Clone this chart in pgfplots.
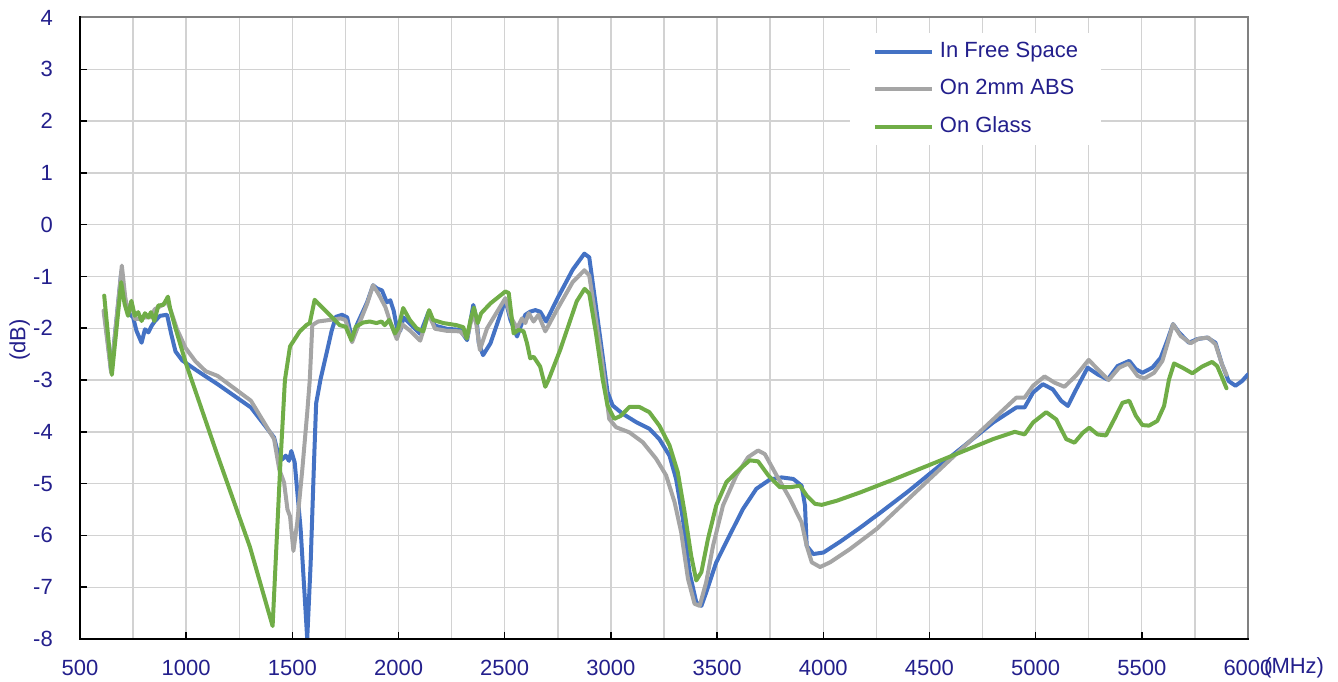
\documentclass[border=0pt]{standalone}
\usepackage{fontspec}
\setmainfont{Liberation Sans}
\usepackage{pgfplots}
\pgfplotsset{compat=1.18}
\definecolor{cblue}{RGB}{68,114,196}
\definecolor{cgray}{RGB}{165,165,165}
\definecolor{cgreen}{RGB}{112,173,71}
\definecolor{navy}{RGB}{35,31,140}
\definecolor{gridc}{RGB}{210,210,210}
\definecolor{framec}{RGB}{128,128,128}
\newcommand{\lblfont}{\fontsize{22pt}{26pt}\selectfont}
\begin{document}
\begin{tikzpicture}
\begin{axis}[
  scale only axis, width=1168pt, height=621.5pt,
  at={(0pt,0pt)}, anchor=south west,
  xmin=500, xmax=6000, ymin=-8, ymax=4,
  xtick={500,1000,1500,2000,2500,3000,3500,4000,4500,5000,5500,6000},
  xticklabels={500,1000,1500,2000,2500,3000,3500,4000,4500,5000,5500,6000},
  minor x tick num=1,
  ytick={-8,-7,-6,-5,-4,-3,-2,-1,0,1,2,3,4},
  yticklabels={-8,-7,-6,-5,-4,-3,-2,-1,0,1,2,3,4},
  grid=both,
  major grid style={gridc, line width=1.4pt},
  minor grid style={gridc, line width=1.4pt},
  tick align=inside, tick pos=left,
  major tick length=7pt, minor tick length=0pt,
  tick style={black, line width=1.5pt},
  axis line style={framec, line width=2pt},
  clip mode=individual,
  every tick label/.append style={text=navy, font=\lblfont},
  yticklabel style={anchor=east, inner sep=0pt, xshift=-27pt},
  xticklabel style={anchor=north, inner sep=0pt, yshift=-21pt},
  xlabel={(MHz)},
  xlabel style={at={(rel axis cs:1,0)}, anchor=north west, inner sep=0pt, xshift=16pt, yshift=-18pt, text=navy, font=\lblfont},
  ylabel={(dB)},
  ylabel style={at={(rel axis cs:-0.0428,0.481)}, anchor=south, inner sep=0pt, text=navy, font=\lblfont},
  legend cell align=left,
  legend image code/.code={\draw[#1, line width=4pt, line cap=butt] (0pt,0pt) -- (57pt,0pt); \path (63pt,0pt);},
  legend style={at={(rel axis cs:0.659,0.975)}, anchor=north west, draw=none, fill=white,
    font=\lblfont, text=navy, inner xsep=23pt, inner ysep=8pt, row sep=16.5pt,
    nodes={inner sep=0pt, text height=16pt, text depth=5pt}},
  every axis plot/.append style={line width=4pt, line join=round, line cap=round},
]
\addplot[cblue] coordinates {
(615,-1.69) (647,-2.84) (695,-0.90) (713,-1.53) (734,-1.73) (750,-1.79) (766,-2.05) (790,-2.28)
(806,-2.02) (822,-2.08) (838,-1.95) (853,-1.86) (877,-1.76) (910,-1.74) (930,-2.12) (950,-2.45)
(981,-2.62) (1044,-2.80) (1092,-2.93) (1148,-3.08) (1305,-3.53) (1414,-4.11) (1430,-4.37)
(1453,-4.53) (1469,-4.46) (1484,-4.56) (1495,-4.37) (1511,-4.59) (1539,-5.88) (1558,-7.17)
(1570,-8.0) (1586,-6.55) (1602,-4.59) (1612,-3.45) (1633,-2.98) (1660,-2.50) (1685,-2.05)
(1705,-1.78) (1734,-1.74) (1758,-1.79) (1781,-2.21) (1805,-1.92) (1852,-1.50) (1880,-1.17)
(1898,-1.23) (1922,-1.27) (1945,-1.50) (1961,-1.46) (1977,-1.66) (1992,-1.98) (2008,-2.05)
(2023,-1.79) (2055,-1.92) (2102,-2.11) (2141,-1.69) (2172,-1.95) (2227,-2.01) (2289,-2.03)
(2323,-2.23) (2352,-1.55) (2367,-1.81) (2378,-2.29) (2398,-2.52) (2433,-2.29) (2503,-1.45)
(2527,-1.84) (2558,-2.16) (2581,-1.90) (2597,-1.74) (2620,-1.68) (2644,-1.65) (2667,-1.68)
(2695,-1.87) (2745,-1.45) (2820,-0.87) (2875,-0.56) (2898,-0.63) (2929,-1.56) (2961,-2.53)
(2984,-3.23) (3008,-3.49) (3055,-3.65) (3118,-3.81) (3181,-3.94) (3228,-4.14) (3276,-4.46)
(3307,-4.91) (3339,-5.68) (3370,-6.71) (3402,-7.29) (3426,-7.36) (3449,-7.10) (3496,-6.52)
(3559,-6.00) (3622,-5.49) (3685,-5.10) (3749,-4.92) (3804,-4.88) (3859,-4.91) (3898,-5.04)
(3914,-5.42) (3922,-6.20) (3953,-6.36) (4001,-6.33) (4080,-6.12) (4174,-5.85) (4269,-5.56)
(4400,-5.15) (4597,-4.49) (4800,-3.82) (4909,-3.53) (4948,-3.53) (4988,-3.24) (5034,-3.08)
(5081,-3.18) (5120,-3.40) (5152,-3.50) (5191,-3.18) (5245,-2.76) (5292,-2.89) (5339,-2.99)
(5386,-2.73) (5441,-2.63) (5472,-2.79) (5503,-2.86) (5550,-2.76) (5589,-2.57) (5620,-2.24)
(5647,-1.92) (5675,-2.08) (5722,-2.28) (5761,-2.21) (5808,-2.18) (5847,-2.28) (5878,-2.70)
(5909,-3.02) (5941,-3.11) (5972,-3.02) (6000,-2.89)
};
\addlegendentry{In Free Space}
\addplot[cgray] coordinates {
(611,-1.66) (647,-2.86) (697,-0.79) (713,-1.40) (726,-1.69) (742,-1.50) (758,-1.82) (782,-1.82)
(806,-1.79) (830,-1.79) (853,-1.63) (885,-1.56) (909,-1.47) (925,-1.63) (957,-2.02) (997,-2.38)
(1044,-2.64) (1092,-2.83) (1148,-2.92) (1305,-3.40) (1414,-4.14) (1438,-4.72) (1461,-4.98)
(1477,-5.50) (1489,-5.63) (1505,-6.30) (1523,-5.75) (1547,-4.72) (1570,-3.63) (1582,-3.00)
(1594,-1.94) (1621,-1.87) (1676,-1.84) (1727,-1.81) (1750,-1.84) (1781,-2.27) (1805,-2.01)
(1852,-1.53) (1880,-1.17) (1906,-1.34) (1938,-1.59) (1961,-1.88) (1992,-2.21) (2016,-1.92)
(2055,-2.05) (2102,-2.24) (2141,-1.72) (2172,-2.01) (2227,-2.05) (2289,-2.06) (2323,-2.19)
(2352,-1.68) (2367,-1.94) (2383,-2.42) (2417,-2.00) (2503,-1.42) (2527,-1.77) (2558,-2.00)
(2581,-1.81) (2597,-1.90) (2613,-1.71) (2636,-1.87) (2659,-1.74) (2691,-2.06) (2745,-1.65)
(2820,-1.11) (2875,-0.88) (2898,-0.98) (2929,-1.82) (2961,-2.72) (2992,-3.75) (3024,-3.91)
(3087,-4.01) (3150,-4.20) (3213,-4.52) (3260,-4.84) (3300,-5.36) (3331,-5.94) (3363,-6.84)
(3394,-7.32) (3418,-7.36) (3449,-6.90) (3481,-6.20) (3528,-5.42) (3591,-4.84) (3646,-4.49)
(3693,-4.36) (3725,-4.43) (3780,-4.84) (3843,-5.29) (3898,-5.75) (3922,-6.20) (3946,-6.52)
(3985,-6.61) (4032,-6.52) (4127,-6.26) (4253,-5.87) (4400,-5.30) (4597,-4.54) (4800,-3.76)
(4909,-3.34) (4948,-3.34) (4988,-3.11) (5042,-2.93) (5089,-3.05) (5136,-3.13) (5191,-2.91)
(5250,-2.61) (5292,-2.79) (5344,-3.00) (5394,-2.76) (5437,-2.68) (5480,-2.92) (5511,-2.97)
(5558,-2.86) (5597,-2.63) (5620,-2.31) (5647,-1.92) (5683,-2.15) (5730,-2.29) (5769,-2.20)
(5813,-2.18) (5847,-2.31) (5878,-2.70) (5899,-2.90)
};
\addlegendentry{On 2mm ABS}
\addplot[cgreen] coordinates {
(614,-1.37) (650,-2.90) (694,-1.11) (710,-1.53) (726,-1.76) (742,-1.47) (758,-1.76) (774,-1.69)
(790,-1.86) (806,-1.71) (822,-1.79) (834,-1.69) (850,-1.86) (869,-1.56) (893,-1.55) (914,-1.39)
(925,-1.63) (949,-1.99) (999,-2.68) (1143,-4.40) (1300,-6.22) (1407,-7.75) (1442,-4.74)
(1465,-3.00) (1489,-2.35) (1535,-2.06) (1566,-1.94) (1582,-1.90) (1605,-1.45) (1621,-1.52)
(1668,-1.71) (1723,-1.94) (1751,-1.97) (1778,-2.23) (1799,-1.97) (1833,-1.89) (1865,-1.87)
(1896,-1.90) (1920,-1.87) (1935,-1.94) (1956,-1.84) (1983,-2.10) (1998,-2.00) (2022,-1.61)
(2053,-1.84) (2085,-2.00) (2116,-2.06) (2144,-1.65) (2163,-1.84) (2211,-1.90) (2273,-1.94)
(2305,-1.98) (2321,-2.20) (2339,-1.84) (2355,-1.60) (2373,-1.90) (2389,-1.71) (2433,-1.52)
(2503,-1.29) (2519,-1.32) (2542,-2.10) (2566,-2.03) (2589,-2.06) (2605,-2.29) (2620,-2.58)
(2636,-2.55) (2667,-2.74) (2691,-3.13) (2706,-3.00) (2761,-2.42) (2839,-1.48) (2876,-1.24)
(2898,-1.33) (2929,-2.08) (2961,-2.98) (2984,-3.49) (3016,-3.75) (3047,-3.69) (3087,-3.52)
(3134,-3.52) (3181,-3.62) (3228,-3.88) (3276,-4.26) (3315,-4.78) (3347,-5.55) (3378,-6.39)
(3402,-6.87) (3426,-6.71) (3457,-6.07) (3496,-5.42) (3544,-4.97) (3607,-4.72) (3654,-4.55)
(3693,-4.57) (3741,-4.84) (3796,-5.07) (3843,-5.07) (3890,-5.04) (3922,-5.23) (3961,-5.39)
(3993,-5.41) (4064,-5.33) (4174,-5.17) (4331,-4.92) (4488,-4.66) (4644,-4.40) (4800,-4.14)
(4902,-4.00) (4948,-4.05) (4988,-3.82) (5050,-3.62) (5097,-3.76) (5144,-4.14) (5183,-4.21)
(5222,-4.02) (5253,-3.92) (5292,-4.05) (5331,-4.07) (5370,-3.76) (5409,-3.44) (5441,-3.40)
(5472,-3.69) (5503,-3.87) (5534,-3.88) (5573,-3.79) (5605,-3.50) (5628,-2.99) (5652,-2.68)
(5691,-2.76) (5738,-2.87) (5784,-2.74) (5831,-2.65) (5855,-2.73) (5878,-2.95) (5899,-3.16)
};
\addlegendentry{On Glass}
\draw[black, line width=2pt, line cap=rect] (rel axis cs:0,1) -- (rel axis cs:0,0) -- (rel axis cs:1,0);
\end{axis}
\pgfresetboundingbox
\path[use as bounding box] (-80pt,-43pt) rectangle (1258pt,639pt);
\end{tikzpicture}
\end{document}
